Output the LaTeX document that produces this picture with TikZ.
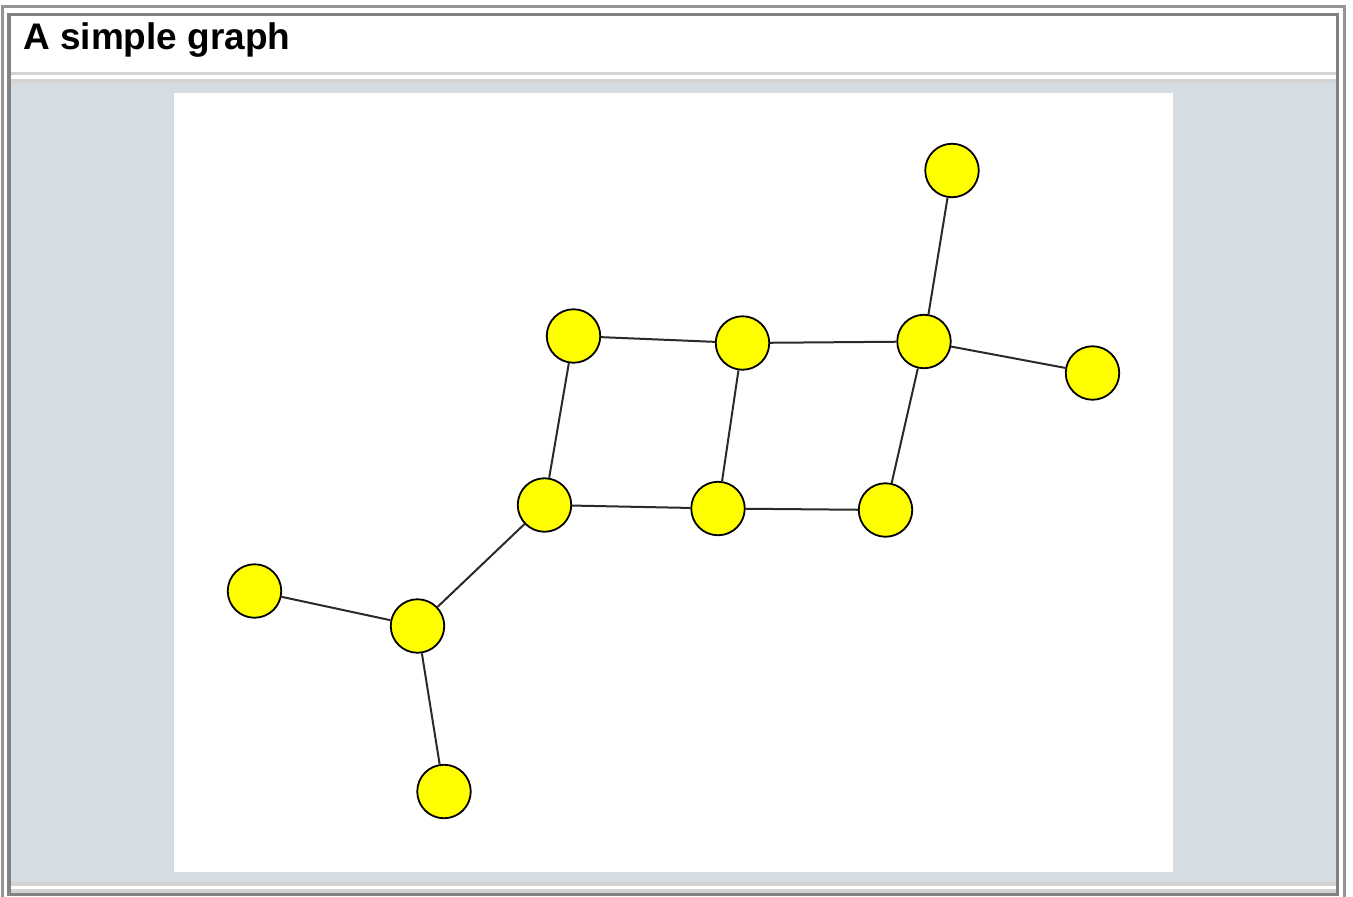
\documentclass[tikz,border=0pt]{standalone}
\usepackage{fontspec}
\setmainfont{Liberation Sans}
\definecolor{outerc}{HTML}{959595}
\definecolor{innerc}{HTML}{828282}
\definecolor{lgray}{HTML}{D3D3D3}
\definecolor{panel}{HTML}{D5DDE3}
\definecolor{edgec}{HTML}{2A2A2A}
\definecolor{nodefill}{HTML}{FFFF00}
\begin{document}
\begin{tikzpicture}[x=1pt,y=-1pt,
  vertex/.style={circle, draw=black, fill=nodefill, line width=1.8pt, minimum size=53.5pt, inner sep=0pt},
  link/.style={draw=edgec, line width=2pt},
  titletext/.style={anchor=base west, inner sep=0pt, font=\bfseries\fontsize{37}{44}\selectfont}]
\useasboundingbox (0,0) rectangle (1353,897);
\fill[white] (0,0) rectangle (1353,897);
% outer frame
\draw[line width=3pt, outerc] (2.5,900) -- (2.5,6) -- (1344.5,6) -- (1344.5,900);
% inner frame
\draw[line width=3.5pt, innerc] (9,14.5) rectangle (1337.5,894.5);
% title separators
\fill[lgray] (10.5,72) rectangle (1336,75);
\fill[lgray] (10.5,78.5) rectangle (1336,82.5);
% panel
\fill[panel] (10.5,82.5) rectangle (1336,882);
\fill[lgray] (10.5,882) rectangle (1336,886);
\fill[lgray] (10.5,889) rectangle (1336,892.5);
% canvas
\fill[white] (174,93) rectangle (1173,872);
% title
\node[titletext] (title) at (23,49.5) {A simple graph};
% nodes
\node[vertex] (a) at (952,170.5) {};
\node[vertex] (b) at (924,341.5) {};
\node[vertex] (c) at (1092.5,373) {};
\node[vertex] (d) at (573.5,336) {};
\node[vertex] (e) at (742.5,343) {};
\node[vertex] (f) at (544.5,505) {};
\node[vertex] (g) at (718,508.5) {};
\node[vertex] (h) at (885.5,510) {};
\node[vertex] (i) at (254.5,591) {};
\node[vertex] (j) at (417.5,626) {};
\node[vertex] (k) at (444,791.5) {};
% edges
\draw[link] (a) -- (b);
\draw[link] (b) -- (c);
\draw[link] (e) -- (b);
\draw[link] (b) -- (h);
\draw[link] (d) -- (e);
\draw[link] (d) -- (f);
\draw[link] (e) -- (g);
\draw[link] (f) -- (g);
\draw[link] (g) -- (h);
\draw[link] (f) -- (j);
\draw[link] (i) -- (j);
\draw[link] (j) -- (k);
\end{tikzpicture}
\end{document}
